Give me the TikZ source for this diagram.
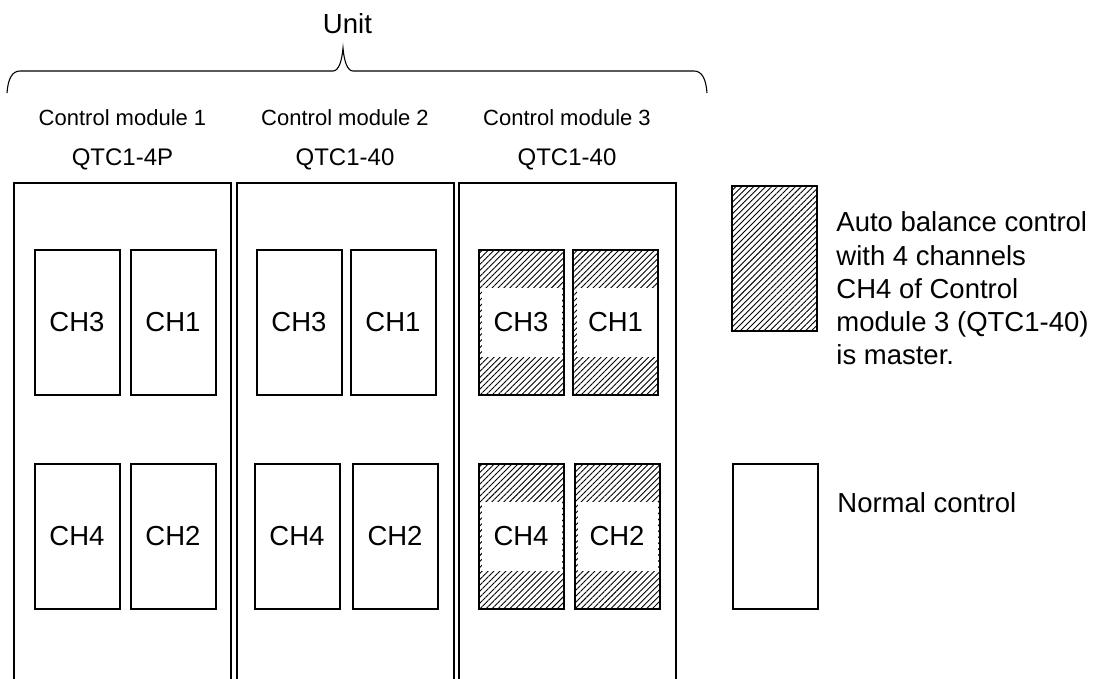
\documentclass[tikz,border=0pt]{standalone}
\usepackage{fontspec}
\setmainfont{Liberation Sans}
\usetikzlibrary{patterns.meta}

\begin{document}
\begin{tikzpicture}[x=0.5pt, y=-0.5pt,
  module/.style={rectangle, draw, line width=1pt, minimum width=108.5pt,
                 minimum height=280pt, inner sep=0pt, anchor=north},
  chan/.style={rectangle, draw, line width=1pt, fill=white, minimum width=42.5pt,
               minimum height=72.5pt, inner sep=0pt,
               font=\fontsize{13.75}{16.6}\selectfont},
  autochan/.style={chan, pattern={Lines[angle=45, distance=2.1pt, line width=0.45pt]},
                   path picture={\fill[white] ([shift={(-39,-34.5)}]path picture bounding box.center)
                                 rectangle ++(80,69);}},
  modname/.style={inner sep=0pt, font=\fontsize{11}{13}\selectfont},
  modtype/.style={inner sep=0pt, font=\fontsize{12}{14}\selectfont},
  legtext/.style={inner sep=0pt, anchor=west, align=left,
                  font=\fontsize{13.75}{16.6}\selectfont}
]
\clip (0,0) rectangle (1107,679);

% brace over the unit
\node[inner sep=0pt, font=\fontsize{13.8}{16}\selectfont] (unit) at (347.5,24) {Unit};
\draw[line width=0.55pt] (7,93) .. controls (8,79) and (12,71) .. (20,71) -- (333,71)
  .. controls (339,71) and (342,60) .. (343,48) .. controls (344,60) and (347,71) .. (353,71)
  -- (694,71) .. controls (702,71) and (706,79) .. (707,93);

\node[modname] (name1) at (122.5,118) {Control module 1};
\node[modname] (name2) at (345,118) {Control module 2};
\node[modname] (name3) at (567,118) {Control module 3};
\node[modtype] (type1) at (122.5,159) {QTC1-4P};
\node[modtype] (type2) at (345,159) {QTC1-40};
\node[modtype] (type3) at (567,159) {QTC1-40};

\node[module] (m1) at (122.5,182) {};
\node[module] (m2) at (345,182) {};
\node[module] (m3) at (567,182) {};

\node[chan] (m1ch3) at (77,322) {CH3};
\node[chan] (m1ch1) at (173,322) {CH1};
\node[chan] (m1ch4) at (77,536.5) {CH4};
\node[chan] (m1ch2) at (173,536.5) {CH2};

\node[chan] (m2ch3) at (299,322) {CH3};
\node[chan] (m2ch1) at (393,322) {CH1};
\node[chan] (m2ch4) at (297,536.5) {CH4};
\node[chan] (m2ch2) at (395,536.5) {CH2};

\node[autochan] (m3ch3) at (521,322) {CH3};
\node[autochan] (m3ch1) at (615.5,322) {CH1};
\node[autochan] (m3ch4) at (521,536.5) {CH4};
\node[autochan] (m3ch2) at (617,536.5) {CH2};

% legend
\node[chan, pattern={Lines[angle=45, distance=2.1pt, line width=0.45pt]}] (legauto) at (774.5,258.5) {};
\node[chan] (legnorm) at (775,536) {};
\node[legtext] (autotext) at (836,288.5) {Auto balance control\\with 4 channels\\CH4 of Control\\module 3 (QTC1-40)\\is master.};
\node[legtext] (normtext) at (837,503) {Normal control};
\end{tikzpicture}
\end{document}
